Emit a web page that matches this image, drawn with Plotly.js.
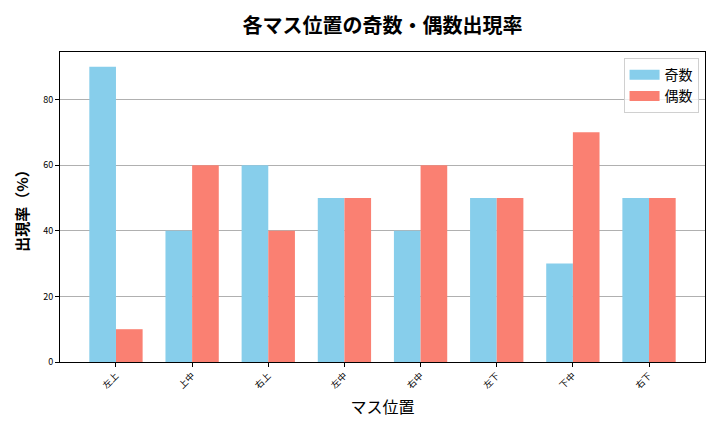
<!DOCTYPE html>
<html>
<head>
<meta charset="utf-8">
<script src="https://cdn.plot.ly/plotly-3.0.1.min.js"></script>
<style>
  html, body { margin: 0; padding: 0; background: #fff; }
  #chart { width: 720px; height: 432px; }
</style>
</head>
<body>
<div id="chart"></div>
<script>
// マス位置ごとの出現率
const positions = ["左上", "上中", "右上", "左中", "右中", "左下", "下中", "右下"];
const oddRates = [90, 40, 60, 50, 40, 50, 30, 50];
const evenRates = [10, 60, 40, 50, 60, 50, 70, 50];

const oddColor = "#87CEEB";
const evenColor = "#FA8072";
const fontFamily = '"Noto Sans CJK JP", "DejaVu Sans", sans-serif';

const traces = [
  {
    type: "bar",
    name: "奇数",
    x: positions,
    y: oddRates,
    marker: { color: oddColor },
    showlegend: false,
    hovertemplate: "%{x}: %{y}%<extra>奇数</extra>"
  },
  {
    type: "bar",
    name: "偶数",
    x: positions,
    y: evenRates,
    marker: { color: evenColor },
    showlegend: false,
    hovertemplate: "%{x}: %{y}%<extra>偶数</extra>"
  },
  // legend proxies so the swatches are wide rectangles like matplotlib
  { type: "scatter", mode: "lines", name: "奇数", x: [null], y: [null], line: { color: oddColor, width: 10 }, hoverinfo: "skip" },
  { type: "scatter", mode: "lines", name: "偶数", x: [null], y: [null], line: { color: evenColor, width: 10 }, hoverinfo: "skip" }
];

const layout = {
  width: 720,
  height: 432,
  barmode: "group",
  bargap: 0.3,
  bargroupgap: 0,
  paper_bgcolor: "#fff",
  plot_bgcolor: "#fff",
  font: { family: fontFamily, color: "#000", size: 10 },
  margin: { l: 60, r: 15, t: 52, b: 70 },
  title: {
    text: "<b>各マス位置の奇数・偶数出現率</b>",
    font: { size: 20 },
    xref: "paper",
    x: 0.5,
    xanchor: "center",
    y: 0.94,
    yanchor: "middle"
  },
  xaxis: {
    title: { text: "マス位置", font: { size: 16 }, standoff: 11 },
    range: [-0.735, 7.735],
    tickangle: -45,
    ticks: "outside",
    ticklen: 4,
    tickcolor: "#000",
    showline: true,
    linecolor: "#000",
    linewidth: 1,
    mirror: true,
    showgrid: false,
    zeroline: false,
    tickfont: { size: 9 }
  },
  yaxis: {
    title: { text: "<b>出現率（%）</b>", font: { size: 15 }, standoff: 10 },
    range: [0, 94.5],
    dtick: 20,
    ticks: "outside",
    ticklen: 4,
    tickcolor: "#000",
    showline: true,
    linecolor: "#000",
    linewidth: 1,
    mirror: true,
    showgrid: true,
    gridcolor: "#b0b0b0",
    gridwidth: 1,
    zeroline: false,
    tickfont: { size: 9 }
  },
  legend: {
    x: 0.99,
    y: 0.98,
    xanchor: "right",
    yanchor: "top",
    bgcolor: "rgba(255,255,255,0.8)",
    bordercolor: "#d0d0d0",
    borderwidth: 1,
    font: { size: 14 }
  },
  showlegend: true
};

Plotly.newPlot("chart", traces, layout, { displayModeBar: false, responsive: false });
</script>
</body>
</html>
